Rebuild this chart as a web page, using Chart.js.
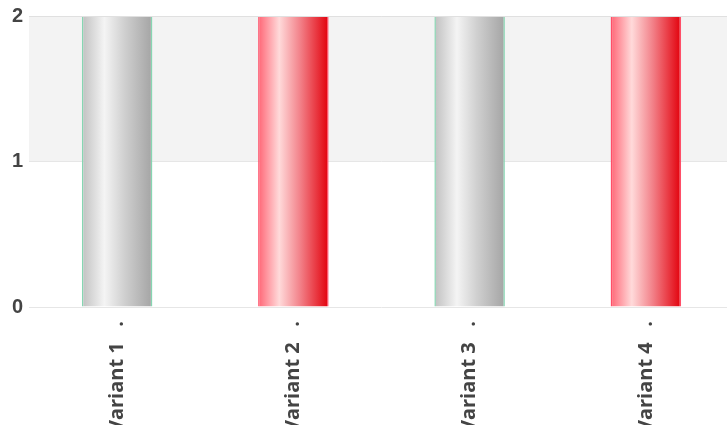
<!DOCTYPE html>
<html>
<head>
<meta charset="utf-8">
<script src="https://cdn.jsdelivr.net/npm/chart.js@4/dist/chart.umd.min.js"></script>
<style>
html,body{margin:0;padding:0;background:#fff;overflow:hidden;}
#outer{width:727px;height:425px;overflow:hidden;position:relative;}
#wrap{width:734px;height:425px;position:relative;}
</style>
</head>
<body>
<div id="outer"><div id="wrap"><canvas id="c"></canvas></div></div>
<script>
const categories = ["Variant 1   .", "Variant 2   .", "Variant 3   .", "Variant 4   ."];
const values = [2, 2, 2, 2];
const yTicks = [0, 1, 2];
const barStyles = ["gray", "red", "gray", "red"];

const gradStops = {
  gray: [[0, "#c0c0c0"], [0.32, "#f4f4f4"], [0.6, "#d0d0d0"], [1, "#a4a4a4"]],
  red:  [[0, "#ff6575"], [0.3, "#ffdada"], [0.6, "#f28088"], [1, "#e2000b"]]
};
const borderCols = { gray: "#86d6b2", red: "#ff4f68" };

const bandPlugin = {
  id: "bands",
  beforeDraw(chart) {
    const { ctx, chartArea, scales } = chart;
    const y = scales.y;
    ctx.save();
    ctx.fillStyle = "#f3f3f3";
    for (let i = 1; i < yTicks.length; i += 2) {
      const top = y.getPixelForValue(yTicks[i + 1] !== undefined ? yTicks[i + 1] : y.max);
      const bot = y.getPixelForValue(yTicks[i]);
      ctx.fillRect(chartArea.left, top, chartArea.right - chartArea.left, bot - top);
    }
    ctx.restore();
  },
  afterDatasetsDraw(chart) {
    const { ctx, chartArea, scales } = chart;
    const yp = Math.round(scales.y.getPixelForValue(scales.y.max)) + 0.5;
    ctx.save();
    ctx.strokeStyle = "#e0e0e0";
    ctx.lineWidth = 1;
    ctx.beginPath();
    ctx.moveTo(chartArea.left, yp);
    ctx.lineTo(chartArea.right, yp);
    ctx.stroke();
    ctx.restore();
  }
};

function bg(context) {
  const chart = context.chart;
  const style = barStyles[context.dataIndex];
  const xs = chart.scales.x;
  if (!chart.chartArea || !xs || xs.width === undefined) return style === "red" ? "#f08088" : "#d0d0d0";
  const cx = xs.getPixelForValue(context.dataIndex);
  const w = xs.width / categories.length * 0.4;
  const g = chart.ctx.createLinearGradient(cx - w / 2, 0, cx + w / 2, 0);
  gradStops[style].forEach(s => g.addColorStop(s[0], s[1]));
  return g;
}

new Chart(document.getElementById("c"), {
  type: "bar",
  data: {
    labels: categories,
    datasets: [{
      data: values,
      backgroundColor: bg,
      borderColor: barStyles.map(s => borderCols[s]),
      borderWidth: { left: 1.5, right: 1.5, top: 0, bottom: 0 },
      borderSkipped: false,
      categoryPercentage: 1,
      barPercentage: 0.4
    }]
  },
  options: {
    responsive: true,
    maintainAspectRatio: false,
    animation: false,
    layout: { padding: { top: 0, right: 0, left: 0, bottom: 0 } },
    plugins: { legend: { display: false }, tooltip: { enabled: false } },
    scales: {
      x: {
        grid: { display: false },
        border: { display: false },
        ticks: {
          minRotation: 90, maxRotation: 90,
          color: "#444",
          padding: 6,
          font: { family: "Open Sans", size: 20, weight: "bold" }
        },
        afterFit(scale) { scale.height = 118; scale.paddingLeft = 0; scale.paddingRight = 0; }
      },
      y: {
        min: 0, max: 2,
        grid: { color: "#e6e6e6", drawTicks: false },
        border: { display: false },
        ticks: {
          stepSize: 1,
          color: "#444",
          padding: 6,
          font: { family: "Liberation Sans", size: 20, weight: "bold" }
        },
        afterFit(scale) { scale.width = 29; scale.paddingTop = 16; scale.paddingBottom = 0; }
      }
    }
  },
  plugins: [bandPlugin]
});
</script>
</body>
</html>
